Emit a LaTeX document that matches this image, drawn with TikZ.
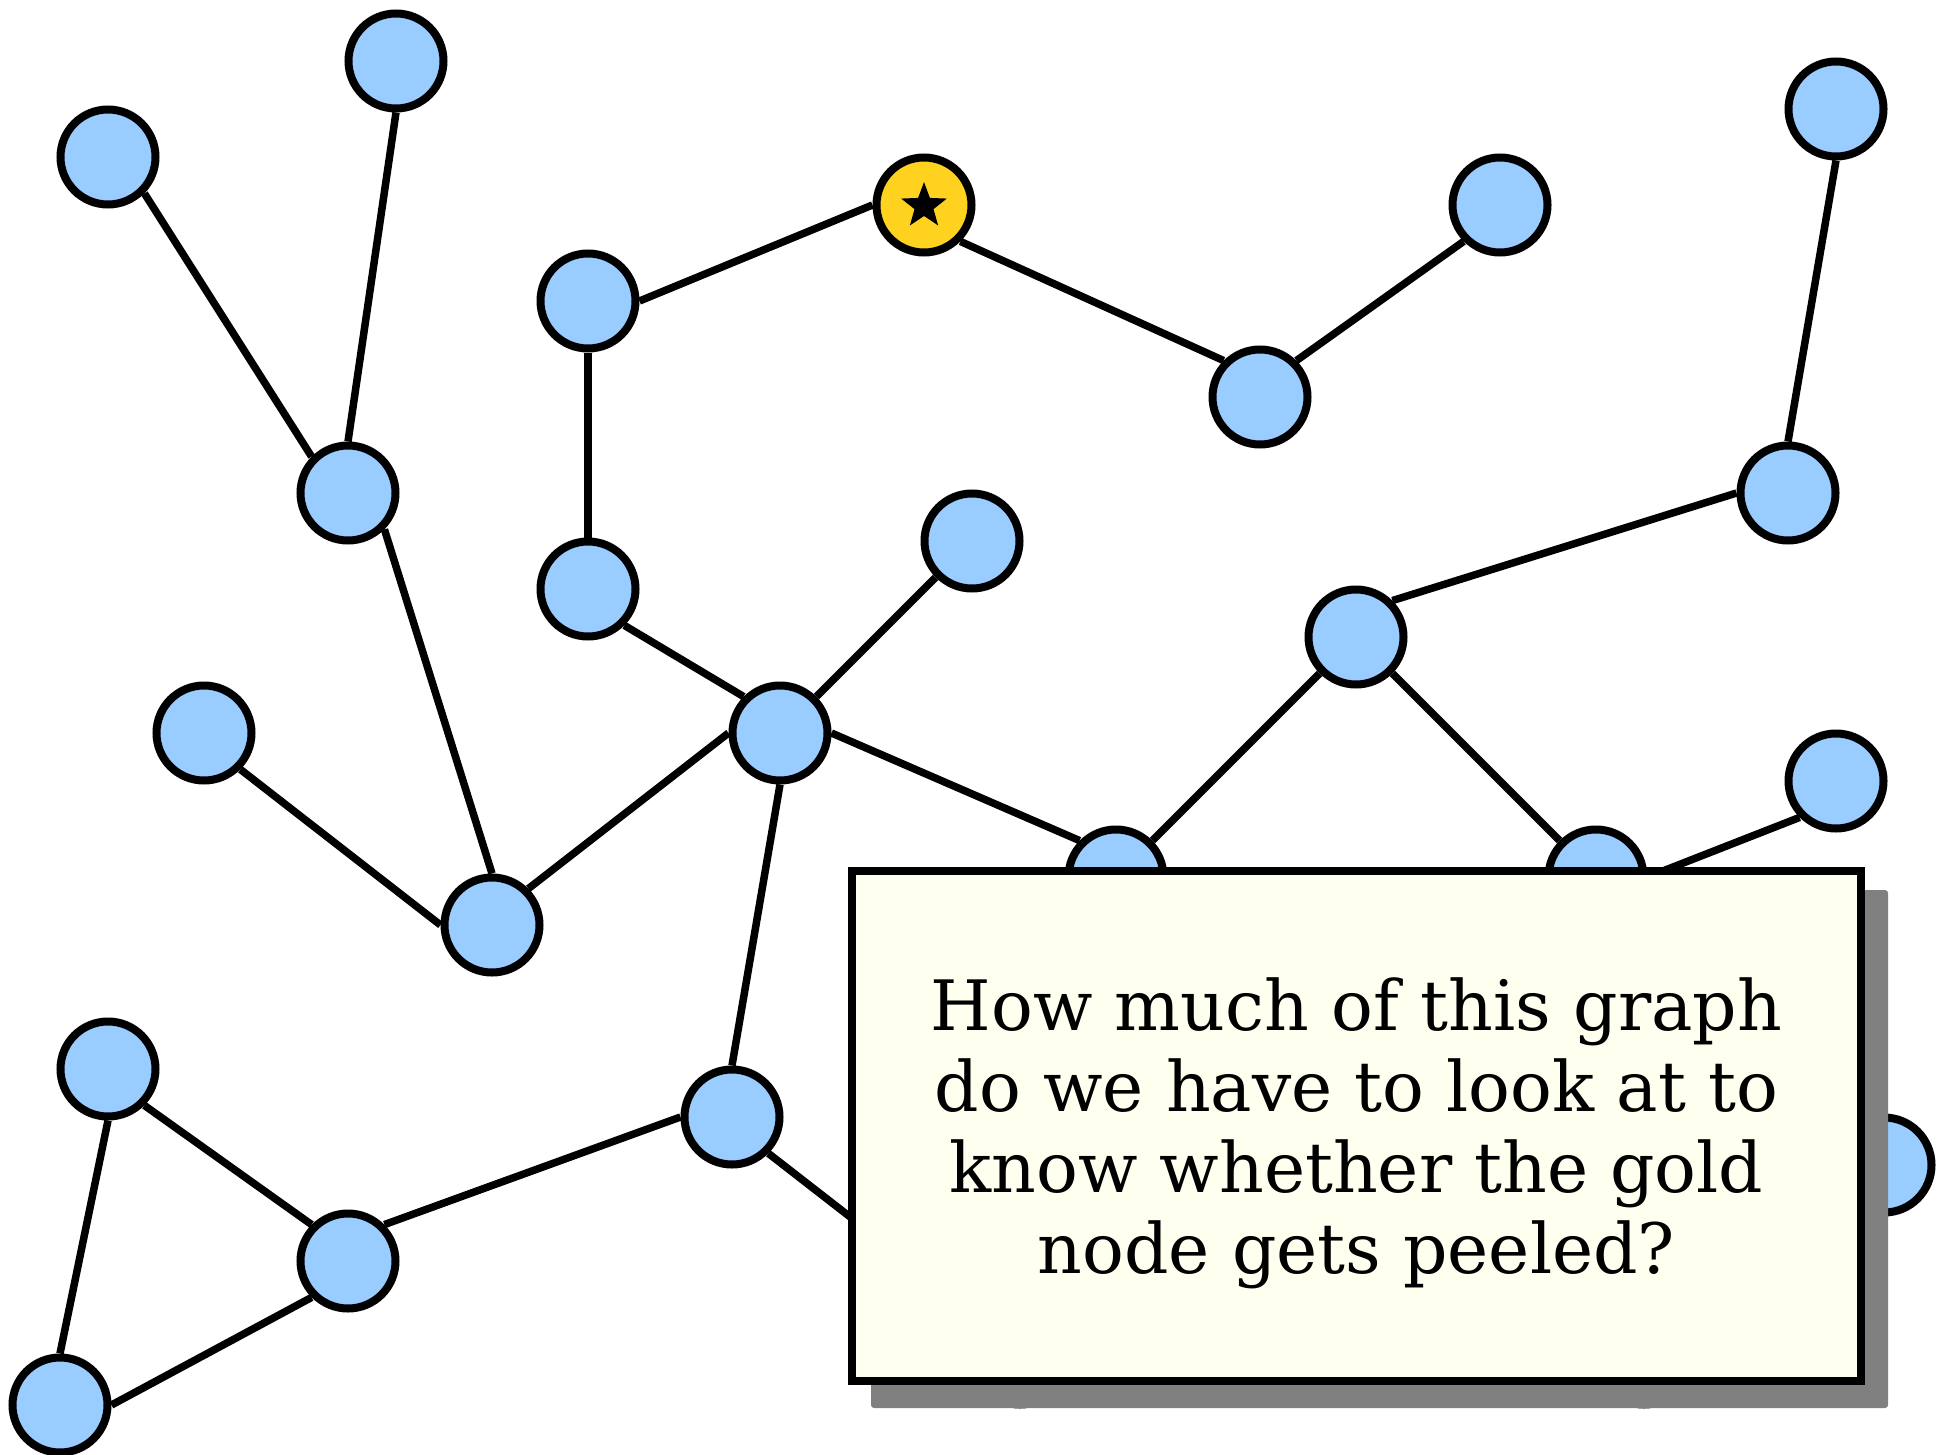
\documentclass[tikz,border=0pt]{standalone}
\usepackage{fontspec}
\newfontfamily\notefont{DejaVu Serif}
\usetikzlibrary{backgrounds}
\definecolor{nodeblue}{RGB}{153,204,255}
\definecolor{nodegold}{RGB}{255,210,32}
\definecolor{notefill}{RGB}{255,255,240}
\definecolor{shadowgray}{RGB}{128,128,128}
\begin{document}
\begin{tikzpicture}[x=1pt,y=-1pt,
  vertex/.style={circle, draw=black, line width=8pt, fill=nodeblue,
    minimum size=95pt, inner sep=0pt},
  goldvertex/.style={vertex, fill=nodegold},
  link/.style={line width=7.5pt, draw=black},
  notebox/.style={rectangle, draw=black, line width=8pt, fill=notefill,
    minimum width=1009pt, minimum height=510pt, inner sep=0pt},
  noteshadow/.style={rectangle, fill=shadowgray, rounded corners=3pt,
    minimum width=1017pt, minimum height=518pt, inner sep=0pt},
  notetext/.style={font=\notefont\fontsize{69.5}{81}\selectfont, align=center,
    inner sep=0pt}]
\useasboundingbox (0,0) rectangle (1948,1455);

% vertices
\node[vertex] (A) at (108,157) {};
\node[vertex] (B) at (396,61) {};
\node[vertex] (C) at (348,493) {};
\node[vertex] (D) at (588,301) {};
\node[goldvertex] (E) at (924,205) {};
\node[vertex] (F) at (1500,205) {};
\node[vertex] (G) at (1260,397) {};
\node[vertex] (H) at (1836,109) {};
\node[vertex] (I) at (1788,493) {};
\node[vertex] (J) at (588,589) {};
\node[vertex] (K) at (972,541) {};
\node[vertex] (L) at (204,733) {};
\node[vertex] (M) at (780,733) {};
\node[vertex] (N) at (1356,637) {};
\node[vertex] (O) at (492,925) {};
\node[vertex] (P) at (1116,877) {};
\node[vertex] (Q) at (1596,877) {};
\node[vertex] (R) at (1836,781) {};
\node[vertex] (S) at (108,1069) {};
\node[vertex] (T) at (732,1117) {};
\node[vertex] (U) at (348,1261) {};
\node[vertex] (V) at (60,1405) {};
\node[vertex] (W) at (1884,1165) {};
\node[vertex] (X1) at (1020,1357) {};
\node[vertex] (X2) at (1644,1357) {};

% star on the gold vertex
\begin{scope}[shift={(E.center)}, yshift=-1pt]
  \fill[black] (-90:24) -- (-54:10) -- (-18:24) -- (18:10) -- (54:24)
    -- (90:10) -- (126:24) -- (162:10) -- (198:24) -- (234:10) -- cycle;
\end{scope}

% edges, joined at compass anchors, behind the vertices
\begin{scope}[on background layer]
  \draw[link] (A.south east) -- (C.north west);
  \draw[link] (B.south) -- (C.north);
  \draw[link] (C.south east) -- (O.north);
  \draw[link] (L.south east) -- (O.west);
  \draw[link] (O.north east) -- (M.west);
  \draw[link] (J.south east) -- (M.north west);
  \draw[link] (K.south west) -- (M.north east);
  \draw[link] (M.east) -- (P.north west);
  \draw[link] (M.south) -- (T.north);
  \draw[link] (D.south) -- (J.north);
  \draw[link] (D.east) -- (E.west);
  \draw[link] (E.south east) -- (G.north west);
  \draw[link] (G.north east) -- (F.south west);
  \draw[link] (H.south) -- (I.north);
  \draw[link] (I.west) -- (N.north east);
  \draw[link] (N.south west) -- (P.north east);
  \draw[link] (N.south east) -- (Q.north west);
  \draw[link] (Q.east) -- (R.south west);
  \draw[link] (S.south east) -- (U.north west);
  \draw[link] (S.south) -- (V.north);
  \draw[link] (V.east) -- (U.south west);
  \draw[link] (U.north east) -- (T.west);
  \draw[link] (T.south east) -- (X1.north west);
\end{scope}

% question box with its drop shadow
\node[noteshadow] (shadow) at (1379.5,1149) {};
\node[notebox] (box) at (1356.5,1126) {};
\node[notetext] (question) at (1356.5,1133) {How much of this graph\\do we have to look at to\\know whether the gold\\node gets peeled?};
\end{tikzpicture}
\end{document}
